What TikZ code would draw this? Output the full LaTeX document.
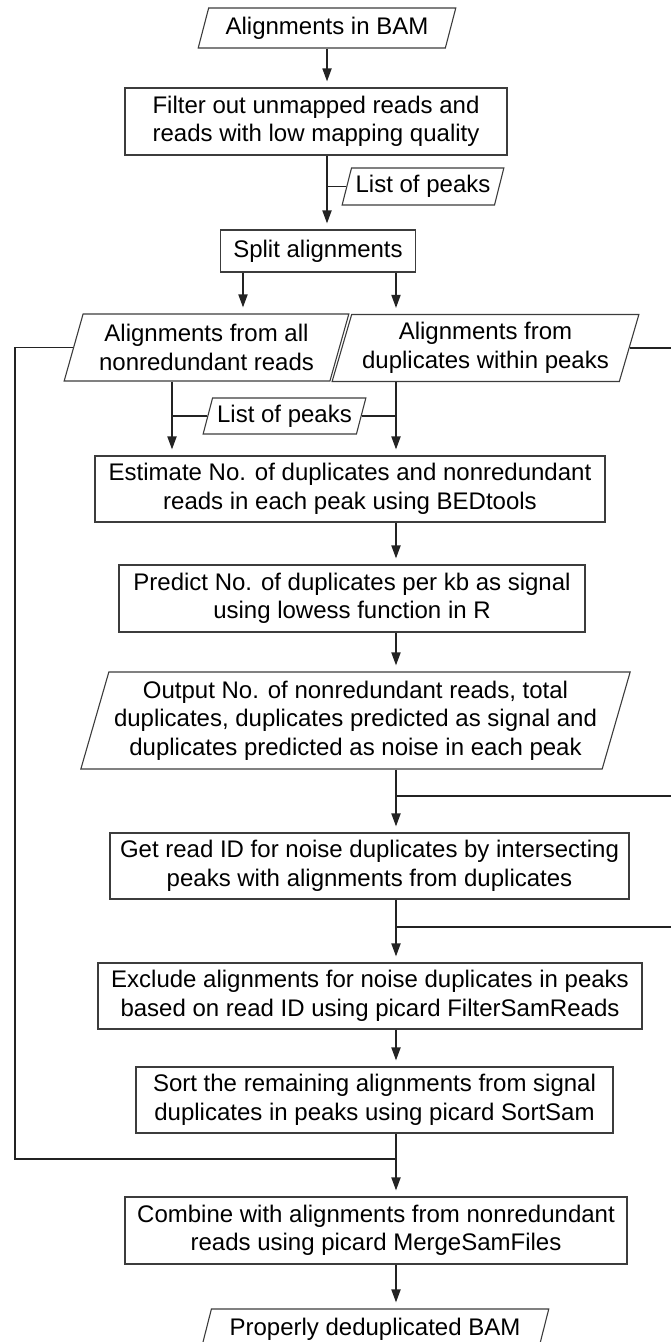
\documentclass[tikz,border=0pt]{standalone}
\usepackage{fontspec}
\setmainfont{Liberation Sans}
\usetikzlibrary{arrows.meta,shapes.geometric}
\definecolor{edge}{RGB}{60,60,60}
\definecolor{wire}{RGB}{35,35,35}

\begin{document}
\begin{tikzpicture}[x=1pt,y=-1pt,>={Triangle[length=13pt,width=9pt]},
 box/.style={draw=edge,line width=1.1pt,align=center,inner sep=3pt,minimum height=67pt,font=\fontsize{24}{28.5}\selectfont},
 io/.style={box,trapezium,trapezium left angle=72,trapezium right angle=108,trapezium stretches=true},
 flow/.style={->,draw=wire,line width=1.8pt,shorten >=6pt},
 tie/.style={draw=wire,line width=1.8pt}]
\useasboundingbox (0,0) rectangle (671,1342);
\clip (0,0) rectangle (671,1342);
\coordinate (colT) at (327,0);
\coordinate (colS) at (243,0);
\coordinate (colL) at (172,0);
\coordinate (colR) at (396,0);
\coordinate (rimL) at (15,0);
\coordinate (rim) at (673,0);
\coordinate (tapA) at (396,796);
\coordinate (tapB) at (396,927);
\coordinate (merge) at (396,1159);
\node[io,minimum width=258pt,minimum height=40pt] (bam) at (327,28) {Alignments in BAM};
\node[box,minimum width=382pt] (filt) at (316,121.5) {Filter out unmapped reads and\\reads with low mapping quality};
\node[io,minimum width=162pt,minimum height=37pt] (peaksA) at (423,186.5) {List of peaks};
\node[box,minimum width=195pt,minimum height=42pt] (split) at (318,251) {Split alignments};
\node[io,minimum width=285pt] (nonred) at (206.5,347.5) {Alignments from all\\nonredundant reads};
\node[io,minimum width=307pt] (dupl) at (485.5,348) {Alignments from\\duplicates within peaks};
\node[io,minimum width=163pt,minimum height=36pt] (peaksB) at (284.5,416) {List of peaks};
\node[box,minimum width=510pt,minimum height=66pt] (est) at (350,489) {Estimate No. of duplicates and nonredundant\\reads in each peak using BEDtools};
\node[box,minimum width=466pt] (pred) at (352,598.5) {Predict No. of duplicates per kb as signal\\using lowess function in R};
\node[io,minimum width=551pt,minimum height=97pt] (outp) at (355.5,720.5) {Output No. of nonredundant reads, total\\duplicates, duplicates predicted as signal and\\duplicates predicted as noise in each peak};
\node[box,minimum width=519pt,minimum height=66pt] (getid) at (369.5,866) {Get read ID for noise duplicates by intersecting\\peaks with alignments from duplicates};
\node[box,minimum width=544pt,minimum height=66pt] (excl) at (370,996) {Exclude alignments for noise duplicates in peaks\\based on read ID using picard FilterSamReads};
\node[box,minimum width=477pt,minimum height=66pt] (sortsam) at (374.5,1100) {Sort the remaining alignments from signal\\duplicates in peaks using picard SortSam};
\node[box,minimum width=502pt] (comb) at (376,1230.5) {Combine with alignments from nonredundant\\reads using picard MergeSamFiles};
\node[io,minimum width=349pt,minimum height=40pt] (dedup) at (375,1329) {Properly deduplicated BAM};
\draw[flow] (bam.south) -- (bam.south |- filt.north);
\draw[flow] (filt.south -| colT) -- (split.north -| colT);
\draw[tie] (peaksA.west) -- (peaksA.west -| colT);
\draw[flow] (split.south -| colS) -- (nonred.north -| colS);
\draw[flow] (split.south -| colR) -- (dupl.north -| colR);
\draw[flow] (nonred.south -| colL) -- (est.north -| colL);
\draw[flow] (dupl.south -| colR) -- (est.north -| colR);
\draw[tie] (peaksB.west) -- (peaksB.west -| colL);
\draw[tie] (peaksB.east) -- (peaksB.east -| colR);
\draw[flow] (est.south -| colR) -- (pred.north -| colR);
\draw[flow] (pred.south -| colR) -- (outp.north -| colR);
\draw[flow] (outp.south -| colR) -- (getid.north -| colR);
\draw[flow] (getid.south -| colR) -- (excl.north -| colR);
\draw[flow] (excl.south -| colR) -- (sortsam.north -| colR);
\draw[flow] (sortsam.south -| colR) -- (comb.north -| colR);
\draw[flow] (comb.south -| colR) -- (dedup.north -| colR);
\draw[tie] (nonred.west) -| (rimL |- merge) -- (merge);
\draw[tie] (dupl.east) -| (rim |- tapB) -- (tapB);
\draw[tie] (rim |- tapA) -- (tapA);
\end{tikzpicture}
\end{document}
